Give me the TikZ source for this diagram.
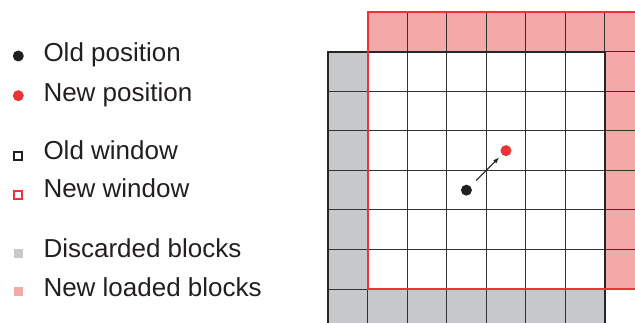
\documentclass[tikz,border=0pt]{standalone}
\usepackage{fontspec}
\setmainfont{Liberation Sans}
\usepackage{xcolor}
\usetikzlibrary{arrows.meta, positioning}

\definecolor{oldgray}{RGB}{199,200,202}
\definecolor{newpink}{RGB}{244,169,169}
\definecolor{winred}{RGB}{237,50,56}
\definecolor{dotblack}{RGB}{35,31,32}

\begin{document}
\begin{tikzpicture}[
  x=1pt, y=1pt,
  lbl/.style={anchor=base west, inner sep=0pt, font=\fontsize{26}{30}\selectfont, text=dotblack},
  posdot/.style={circle, inner sep=0pt, minimum size=11pt},
  keybox/.style={rectangle, inner sep=0pt, minimum size=9pt},
  gridln/.style={line width=1pt, draw=black!80},
  arr/.style={-{Latex[length=6pt, width=4.5pt]}, line width=1pt, dotblack},
]
\useasboundingbox (0,0) rectangle (635,323);

% Legend
\node[posdot, fill=dotblack] (lgold) at (18.3,267) {};
\node[lbl] (lgoldt) at (43.3,261.3) {Old position};
\node[posdot, fill=winred] (lgnew) at (18.3,227.3) {};
\node[lbl] (lgnewt) at (43.3,221.3) {New position};

\node[keybox, draw=dotblack, line width=2pt, minimum size=8pt] (lgoldw) at (18,166.5) {};
\node[lbl] (lgoldwt) at (43.3,163) {Old window};
\node[keybox, draw=winred, line width=2pt, minimum size=8pt] (lgneww) at (18,128) {};
\node[lbl] (lgnewwt) at (43.3,125) {New window};

\node[keybox, fill=oldgray] (lgdisc) at (18,69) {};
\node[lbl] (lgdisct) at (43.3,65) {Discarded blocks};
\node[keybox, fill=newpink] (lgload) at (18,31) {};
\node[lbl] (lgloadt) at (43.3,26.3) {New loaded blocks};

% Blocks
\begin{scope}[shift={(328pt,-5.6pt)}, x=39.55pt, y=39.55pt]
  \clip (-1,0.1) rectangle (7.8,8.5);
  % discarded
  \fill[oldgray] (0,0) rectangle (1,7);
  \fill[oldgray] (1,0) rectangle (7,1);
  % new loaded
  \fill[newpink] (1,7) rectangle (8,8);
  \fill[newpink] (7,1) rectangle (8,7);
  % grid
  \foreach \i in {1,...,6} {
    \draw[gridln] (\i,0) -- (\i,7);
    \draw[gridln] (0,\i) -- (7,\i);
    \draw[gridln] (\i+1,1) -- (\i+1,8);
    \draw[gridln] (1,\i+1) -- (8,\i+1);
  }
  % windows
  \draw[line width=2pt, draw=black!85] (0,0) rectangle (7,7);
  \draw[line width=2pt, draw=winred] (1,1) rectangle (8,8);
  % positions
  \node[posdot, fill=dotblack] (oldpos) at (3.5,3.5) {};
  \node[posdot, fill=winred] (newpos) at (4.5,4.5) {};
  \draw[arr, shorten <=8pt, shorten >=4pt] (oldpos) -- (newpos);
\end{scope}
\end{tikzpicture}
\end{document}
